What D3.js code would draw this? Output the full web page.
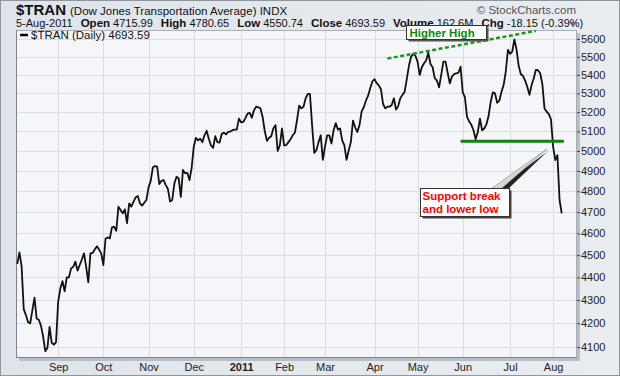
<!DOCTYPE html>
<html><head><meta charset="utf-8">
<script src="https://cdn.jsdelivr.net/npm/d3@7"></script>
<style>body{margin:0;background:#fff}svg{display:block;font-family:"Liberation Sans",Arial,sans-serif}</style>
</head><body><svg id="c" width="620" height="376"></svg>
<script>
// ---- data ----
const startDate = "2010-08-05", endDate = "2011-08-05";
const holidays = ["2010-09-06","2010-11-25","2010-12-24","2011-01-17","2011-02-21","2011-04-22","2011-05-30","2011-07-04"];
const closes = [4460,4512,4450,4260,4235,4205,4200,4255,4310,4220,4215,4190,4145,4083,4097,4185,4118,4110,4120,4293,
4350,4383,4338,4400,4400,4440,4447,4470,4430,4455,4480,4508,4447,4378,4508,4510,4525,4540,4525,4508,
4455,4575,4581,4577,4628,4631,4612,4726,4710,4694,4713,4648,4742,4726,4750,4771,4777,4742,4731,4745,
4758,4819,4851,4918,4924,4921,4835,4851,4855,4830,4811,4750,4758,4838,4871,4863,4773,4905,4888,4891,
4855,4913,5021,5067,5054,5062,5045,5080,5103,5062,5028,5016,5075,5045,5043,5087,5093,5085,5097,5099,
5106,5109,5109,5166,5147,5149,5169,5192,5196,5171,5211,5229,5226,5220,5175,5102,5051,5067,5075,5115,
5132,5000,5028,5115,5028,5030,5045,5060,5080,5093,5159,5235,5220,5229,5274,5297,5297,5131,4990,5004,
5045,5080,4955,5022,5080,5080,5038,5106,5143,5109,5115,5054,5028,4955,5002,5045,5156,5121,5097,5131,
5203,5226,5261,5286,5327,5364,5377,5355,5343,5322,5243,5220,5229,5229,5238,5274,5214,5232,5274,5292,
5308,5377,5450,5500,5516,5506,5473,5400,5442,5464,5479,5523,5460,5442,5382,5369,5333,5400,5473,5473,
5412,5354,5391,5404,5409,5412,5445,5305,5280,5175,5151,5134,5106,5060,5097,5166,5106,5115,5136,5180,
5255,5305,5300,5250,5261,5308,5345,5418,5539,5516,5529,5598,5541,5450,5404,5395,5369,5336,5292,5345,
5382,5428,5426,5409,5350,5220,5203,5190,5163,5022,4954,4979,4758,4694];
const yTicks = [4100,4200,4300,4400,4500,4600,4700,4800,4900,5000,5100,5200,5300,5400,5500,5600];
const monthNames = ["Jan","Feb","Mar","Apr","May","Jun","Jul","Aug","Sep","Oct","Nov","Dec"];
const headerFields = [["Open","4715.99"],["High","4780.65"],["Low","4550.74"],["Close","4693.59"],["Volume","162.6M"],["Chg","-18.15 (-0.39%)"]];
const trendHigh = [{i:172, v:5490},{i:241, v:5646}];
const supportLevel = 5050, supportFrom = 206, supportTo = 254;
const calloutTip = {i:246, v:5009};

// ---- trading dates ----
const fmt = d3.utcFormat("%Y-%m-%d");
const dates = [];
for (let d = new Date(startDate+"T00:00:00Z"); fmt(d) <= endDate; d = d3.utcDay.offset(d,1)) {
  const wd = d.getUTCDay();
  if (wd===0||wd===6||holidays.includes(fmt(d))) continue;
  dates.push(new Date(d));
}
const data = dates.map((d,i)=>({i, d, v: closes[i]}));

const svg = d3.select("#c");
const W=620,H=376, L=16, R=577, T=30, B=358;

// background
const defs = svg.append("defs");
const g1 = defs.append("linearGradient").attr("id","bg").attr("x1",0).attr("y1",0).attr("x2",1).attr("y2",0);
g1.append("stop").attr("offset","0").attr("stop-color","#dfe4ea");
g1.append("stop").attr("offset","1").attr("stop-color","#e9edf1");
svg.append("rect").attr("width",W).attr("height",H).attr("fill","url(#bg)");
svg.append("rect").attr("x",0.5).attr("y",0.5).attr("width",W-1).attr("height",H-1).attr("fill","none").attr("stroke","#8e959c");

const x = d3.scaleLinear().domain([-0.6, 260.1]).range([L, R]);
const y = d3.scaleLog().domain([4055, 5651]).range([B, T]);

// plot shadow + bg
svg.append("rect").attr("x",L+3).attr("y",T+3).attr("width",R-L).attr("height",B-T).attr("fill","#b9bfc6");
svg.append("rect").attr("x",L).attr("y",T).attr("width",R-L).attr("height",B-T).attr("fill","#f5f6fa");

// gridlines
const monthStarts = data.filter((p,k)=> k>0 && p.d.getUTCMonth()!==data[k-1].d.getUTCMonth());
svg.append("g").selectAll("line.h").data(yTicks).join("line")
  .attr("x1",L).attr("x2",R).attr("y1",d=>Math.round(y(d))+0.5).attr("y2",d=>Math.round(y(d))+0.5)
  .attr("stroke","#dadde2").attr("stroke-width",1);
svg.append("g").selectAll("line.v").data(monthStarts).join("line")
  .attr("y1",T).attr("y2",B).attr("x1",d=>Math.round(x(d.i))+0.5).attr("x2",d=>Math.round(x(d.i))+0.5)
  .attr("stroke","#dadde2").attr("stroke-width",1);

// border
svg.append("rect").attr("x",L+0.5).attr("y",T+0.5).attr("width",R-L-1).attr("height",B-T-1).attr("fill","none").attr("stroke","#a7adb3");
svg.append("path").attr("d",`M${L+0.5},${T}V${B-0.5}H${R}`).attr("fill","none").attr("stroke","#7d838a");

// y axis
const yAxis = d3.axisRight(y).tickValues(yTicks).tickFormat(d3.format("d")).tickSize(3).tickPadding(1);
const ya = svg.append("g").attr("transform",`translate(${R},0)`).call(yAxis);
ya.select(".domain").remove();
ya.selectAll("line").attr("stroke","#444");
ya.selectAll("text").attr("font-size","11px").attr("fill","#222").attr("font-family","Liberation Sans, Arial, sans-serif");

// x axis labels
const xa = d3.axisBottom(x).tickValues(monthStarts.map(d=>d.i))
  .tickFormat(i=>{const d=dates[i]; return d.getUTCMonth()===0? String(d.getUTCFullYear()) : monthNames[d.getUTCMonth()];})
  .tickSize(0).tickPadding(5);
const xg = svg.append("g").attr("transform",`translate(0,${B})`).call(xa);
xg.select(".domain").remove();
xg.selectAll("text").attr("font-size","11px").attr("fill","#222").attr("font-family","Liberation Sans, Arial, sans-serif")
  .attr("font-weight",i=>dates[i].getUTCMonth()===0?"bold":"normal");

// price line
const line = d3.line().x(d=>x(d.i)).y(d=>y(d.v));
svg.append("path").datum(data).attr("d",line).attr("fill","none").attr("stroke","#111").attr("stroke-width",1.8).attr("stroke-linejoin","round");

// annotations: trendline
svg.append("line").attr("x1",x(trendHigh[0].i)).attr("y1",y(trendHigh[0].v)).attr("x2",x(trendHigh[1].i)).attr("y2",y(trendHigh[1].v))
  .attr("stroke","#1c961c").attr("stroke-width",2.5).attr("stroke-dasharray","4,2.5");
// support
svg.append("line").attr("x1",x(supportFrom)).attr("x2",x(supportTo)).attr("y1",y(supportLevel)).attr("y2",y(supportLevel))
  .attr("stroke","#0a870a").attr("stroke-width",3);

// legend
svg.append("line").attr("x1",20).attr("x2",28).attr("y1",35).attr("y2",35).attr("stroke","#000").attr("stroke-width",2.5);
svg.append("text").attr("x",31).attr("y",39).attr("font-size","11.5px").attr("fill","#111").text("$TRAN (Daily) " + d3.format(".2f")(4693.59));

// header
svg.append("text").attr("x",16).attr("y",15).attr("font-size","15px").attr("font-weight","bold").attr("fill","#111").text("$TRAN")
  .append("tspan").attr("font-size","11.5px").attr("font-weight","normal").attr("dx",4).text("(Dow Jones Transportation Average) INDX");
svg.append("text").attr("x",576).attr("y",14).attr("text-anchor","end").attr("font-size","11.5px").attr("fill","#555").text("\u00a9 StockCharts.com");
const h2 = svg.append("text").attr("x",16).attr("y",27).attr("font-size","11px").attr("fill","#111");
h2.append("tspan").text("5-Aug-2011");
headerFields.forEach(([k,v])=>{ h2.append("tspan").attr("dx",8).attr("font-weight","bold").attr("font-size","11.5px").text(k); h2.append("tspan").attr("dx",3).text(v); });
svg.append("path").attr("d","M569,22h8l-4,5z").attr("fill","#5a6f8a");

// Higher High box
const hb = {x:406.5, y:25.5, w:80, h:14};
svg.append("rect").attr("x",hb.x+2).attr("y",hb.y+2).attr("width",hb.w).attr("height",hb.h).attr("fill","#555");
svg.append("rect").attr("x",hb.x).attr("y",hb.y).attr("width",hb.w).attr("height",hb.h).attr("fill","#fff").attr("stroke","#333");
svg.append("text").attr("x",hb.x+3).attr("y",hb.y+11).attr("font-size","11.5px").attr("font-weight","bold").attr("fill","#0a870a").text("Higher High");

// Support callout
const cb = {x:420.5, y:188.5, w:89, h:28};
const tx = x(calloutTip.i), ty = y(calloutTip.v);
svg.append("path").attr("d",`M${cb.x+cb.w-14},${cb.y+2}L${tx+1},${ty+2}L${cb.x+cb.w-3},${cb.y+2}Z`).attr("fill","#222");
svg.append("path").attr("d",`M${cb.x+cb.w-18},${cb.y}L${tx},${ty}L${cb.x+cb.w-8},${cb.y}Z`).attr("fill","#d6d6d6").attr("stroke","#888").attr("stroke-width",0.6);
svg.append("rect").attr("x",cb.x+2).attr("y",cb.y+2).attr("width",cb.w).attr("height",cb.h).attr("fill","#444");
svg.append("rect").attr("x",cb.x).attr("y",cb.y).attr("width",cb.w).attr("height",cb.h).attr("fill","#fff").attr("stroke","#333");
svg.append("text").attr("x",cb.x+2).attr("y",cb.y+11).attr("font-size","11.5px").attr("font-weight","bold").attr("fill","#f00").text("Support break");
svg.append("text").attr("x",cb.x+2).attr("y",cb.y+24).attr("font-size","11.5px").attr("font-weight","bold").attr("fill","#f00").text("and lower low");
</script></body></html>
